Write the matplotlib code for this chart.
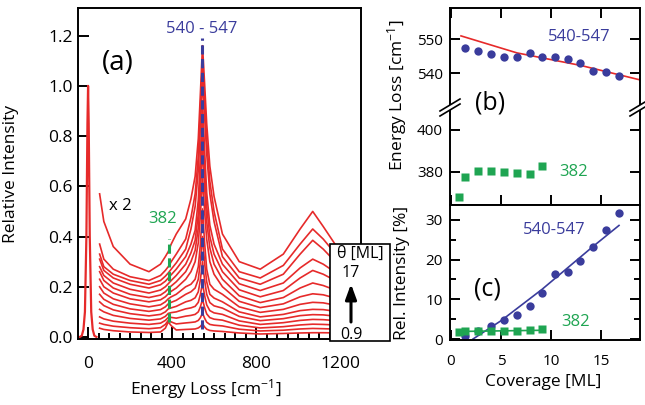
import matplotlib
matplotlib.use('Agg')
import matplotlib.pyplot as plt
from matplotlib.ticker import MultipleLocator, FormatStrFormatter
from matplotlib.patches import Rectangle, FancyArrowPatch, Polygon
from matplotlib.lines import Line2D

plt.rcParams['font.family'] = ['Open Sans', 'DejaVu Sans']
plt.rcParams['mathtext.default'] = 'regular'

RED = '#e62a2a'
BLUE = '#3a3c9c'
GREEN = '#1fa552'

# ---- (a) spectra, energy loss in cm-1 ----
energy = [55, 75, 120, 200, 290, 345, 368, 382, 396, 420, 465,
          490, 510, 525, 535, 545, 555, 565, 580, 600,
          640, 720, 820, 930, 1010, 1070, 1120, 1200]
spec_0p9 = [0.035, 0.03, 0.025, 0.02, 0.018, 0.02, 0.035, 0.06, 0.045, 0.028, 0.03,
            0.031, 0.032, 0.036, 0.042, 0.052, 0.04, 0.031, 0.026, 0.024,
            0.022, 0.016, 0.012, 0.014, 0.016, 0.017, 0.017, 0.016]
spec_1p4 = [0.055, 0.05, 0.043, 0.037, 0.033, 0.037, 0.05, 0.066, 0.06, 0.052, 0.056,
            0.058, 0.06, 0.066, 0.077, 0.095, 0.075, 0.059, 0.05, 0.047,
            0.044, 0.031, 0.024, 0.027, 0.032, 0.034, 0.033, 0.031]
spec_2p7 = [0.08, 0.072, 0.063, 0.055, 0.05, 0.055, 0.066, 0.078, 0.078, 0.075, 0.083,
            0.086, 0.09, 0.10, 0.12, 0.15, 0.117, 0.092, 0.077, 0.071,
            0.067, 0.047, 0.036, 0.041, 0.048, 0.051, 0.05, 0.047]
spec_4p0 = [0.11, 0.10, 0.086, 0.074, 0.067, 0.072, 0.082, 0.094, 0.097, 0.10, 0.112,
            0.116, 0.122, 0.138, 0.169, 0.215, 0.165, 0.128, 0.105, 0.096,
            0.09, 0.064, 0.05, 0.057, 0.066, 0.07, 0.069, 0.064]
spec_5p3 = [0.14, 0.125, 0.108, 0.093, 0.084, 0.09, 0.10, 0.112, 0.116, 0.122, 0.14,
            0.146, 0.156, 0.18, 0.228, 0.30, 0.226, 0.17, 0.137, 0.124,
            0.115, 0.082, 0.065, 0.073, 0.085, 0.089, 0.088, 0.081]
spec_6p6 = [0.17, 0.15, 0.13, 0.112, 0.102, 0.109, 0.12, 0.132, 0.138, 0.146, 0.17,
            0.18, 0.195, 0.23, 0.30, 0.40, 0.295, 0.22, 0.17, 0.155,
            0.14, 0.10, 0.08, 0.09, 0.105, 0.11, 0.109, 0.10]
spec_7p9 = [0.20, 0.175, 0.152, 0.132, 0.12, 0.128, 0.14, 0.152, 0.16, 0.17, 0.20,
            0.21, 0.23, 0.28, 0.37, 0.51, 0.375, 0.27, 0.21, 0.19,
            0.17, 0.12, 0.098, 0.11, 0.13, 0.138, 0.136, 0.123]
spec_9p1 = [0.23, 0.20, 0.175, 0.152, 0.14, 0.148, 0.16, 0.172, 0.182, 0.195, 0.23,
            0.26, 0.30, 0.375, 0.485, 0.63, 0.50, 0.39, 0.30, 0.25,
            0.20, 0.142, 0.117, 0.132, 0.16, 0.172, 0.168, 0.15]
spec_10p4 = [0.26, 0.225, 0.195, 0.17, 0.157, 0.167, 0.18, 0.192, 0.203, 0.22, 0.26,
             0.30, 0.345, 0.435, 0.575, 0.75, 0.595, 0.46, 0.355, 0.29,
             0.23, 0.164, 0.137, 0.157, 0.195, 0.215, 0.205, 0.18]
spec_11p7 = [0.28, 0.245, 0.215, 0.19, 0.175, 0.187, 0.20, 0.212, 0.225, 0.245, 0.29,
             0.335, 0.385, 0.49, 0.65, 0.85, 0.67, 0.52, 0.40, 0.33,
             0.26, 0.188, 0.16, 0.185, 0.235, 0.265, 0.25, 0.215]
spec_12p9 = [0.31, 0.265, 0.235, 0.21, 0.195, 0.208, 0.222, 0.235, 0.248, 0.27, 0.32,
             0.37, 0.425, 0.545, 0.72, 0.94, 0.745, 0.575, 0.445, 0.37,
             0.29, 0.212, 0.185, 0.215, 0.275, 0.31, 0.29, 0.245]
spec_14p2 = [0.33, 0.28, 0.25, 0.225, 0.21, 0.225, 0.242, 0.255, 0.27, 0.295, 0.35,
             0.43, 0.52, 0.665, 0.84, 1.02, 0.88, 0.73, 0.57, 0.46,
             0.32, 0.235, 0.21, 0.25, 0.33, 0.385, 0.35, 0.28]
spec_15p5 = [0.37, 0.31, 0.27, 0.24, 0.225, 0.245, 0.265, 0.28, 0.30, 0.33, 0.39,
             0.475, 0.57, 0.72, 0.91, 1.10, 0.95, 0.785, 0.62, 0.50,
             0.35, 0.26, 0.235, 0.285, 0.37, 0.43, 0.39, 0.31]
spec_17 = [0.57, 0.46, 0.36, 0.29, 0.26, 0.29, 0.32, 0.34, 0.37, 0.41, 0.47,
           0.55, 0.64, 0.79, 0.97, 1.16, 1.01, 0.85, 0.68, 0.56,
           0.41, 0.30, 0.27, 0.33, 0.43, 0.50, 0.44, 0.34]
spectra = [spec_0p9, spec_1p4, spec_2p7, spec_4p0, spec_5p3, spec_6p6, spec_7p9,
           spec_9p1, spec_10p4, spec_11p7, spec_12p9, spec_14p2, spec_15p5, spec_17]

# elastic peak (not scaled)
elastic_e = [-40, -30, -22, -15, -8, -3, 0, 3, 8, 15, 22, 30, 40]
elastic_i = [0.0, 0.005, 0.03, 0.1, 0.4, 0.85, 1.0, 0.85, 0.4, 0.1, 0.03, 0.005, 0.0]

peak_382 = 385
peak_545 = 545

# ---- (b), (c) vs coverage [ML] ----
coverage = [0.84, 1.4, 2.7, 4.0, 5.3, 6.6, 7.9, 9.1, 10.4, 11.7, 12.9, 14.2, 15.5, 16.8]
e540 = [547.4, 546.6, 545.6, 544.7, 544.7, 545.9, 544.7, 544.9, 544.3, 543.0, 540.8, 540.3, 539.2]
e382 = [368.0, 377.6, 380.5, 380.5, 379.7, 379.2, 378.7, 382.9]
fit540_cov = [1.0, 6.6, 10.4, 13.0, 19.0]
fit540_e = [551.0, 546.0, 543.8, 542.3, 538.0]

rel540 = [0.7, 1.9, 3.2, 4.8, 6.1, 8.2, 11.7, 16.3, 17.0, 19.6, 23.2, 27.5, 31.8]
rel382 = [1.7, 1.9, 2.1, 1.9, 2.1, 2.1, 2.3, 2.5]
relfit540_cov = [2.2, 5.0, 9.1, 14.2, 16.8]
relfit540 = [0.0, 4.6, 12.5, 23.3, 28.6]
relfit382_cov = [0.84, 9.1]
relfit382 = [1.9, 2.2]

W, H = 645, 405
fig = plt.figure(figsize=(W / 100, H / 100), dpi=100)


def box(left, top, right, bottom):
    return [left / W, 1 - bottom / H, (right - left) / W, (bottom - top) / H]


def fx(x):
    return x / W


def fy(y):
    return 1 - y / H


ax_a = fig.add_axes(box(78, 8, 361, 339))
ax_b1 = fig.add_axes(box(450, 8, 640, 107))
ax_b2 = fig.add_axes(box(450, 107, 640, 205))
ax_c = fig.add_axes(box(450, 205, 640, 340))

for ax in (ax_a, ax_b1, ax_b2, ax_c):
    for sp in ax.spines.values():
        sp.set_linewidth(1.4)

# ---- panel (a) ----
for s in spectra:
    ax_a.plot(energy, s, color=RED, lw=1.2)
ax_a.plot(elastic_e, elastic_i, color=RED, lw=1.6)
ax_a.vlines(peak_545, 0.03, 1.19, colors=BLUE, linestyles=(0, (3, 1.5)), lw=2.2, zorder=5)
ax_a.vlines(peak_382, 0.06, 0.39, colors=GREEN, linestyles=(0, (3, 1.5)), lw=2.2, zorder=5)
ax_a.set_xlim(-48, 1300)
ax_a.set_ylim(-0.008, 1.31)
ax_a.set_xticks([0, 400, 800, 1200])
ax_a.xaxis.set_minor_locator(MultipleLocator(50))
ax_a.set_yticks([0, 0.2, 0.4, 0.6, 0.8, 1.0, 1.2])
ax_a.yaxis.set_major_formatter(FormatStrFormatter('%.1f'))
ax_a.tick_params(axis='x', which='major', direction='in', length=9, width=1.4, labelsize=12.5, pad=12)
ax_a.tick_params(axis='x', which='minor', direction='in', length=4, width=1.4)
ax_a.tick_params(axis='y', which='major', direction='in', length=8, width=1.4, labelsize=12.5, pad=4)
ax_a.set_xlabel('Energy Loss [cm$^{-1}$]', fontsize=12.5)
ax_a.xaxis.set_label_coords(0.45, -0.115)
ax_a.set_ylabel('Relative Intensity', fontsize=12.5)
ax_a.yaxis.set_label_coords(-0.21, 0.5)
ax_a.text(143, 1.09, '(a)', fontsize=20, ha='center', va='center')
ax_a.text(152, 0.52, 'x 2', fontsize=12, ha='center', va='center')
ax_a.text(543, 1.225, '540 - 547', color=BLUE, fontsize=12, ha='center', va='center')
ax_a.text(357, 0.47, '382', color=GREEN, fontsize=12, ha='center', va='center')

# coverage legend box
fig.add_artist(Rectangle((fx(330), fy(341)), fx(390) - fx(330), fy(244) - fy(341),
                         transform=fig.transFigure, facecolor='white', edgecolor='black',
                         lw=1.2, zorder=10))
fig.text(fx(360), fy(254), 'θ [ML]', fontsize=11.5, ha='center', va='center', zorder=11)
fig.text(fx(351), fy(273), '17', fontsize=11.5, ha='center', va='center', zorder=11)
fig.text(fx(351), fy(335), '0.9', fontsize=11.5, ha='center', va='center', zorder=11)
fig.add_artist(FancyArrowPatch((fx(351), fy(322)), (fx(351), fy(284)), transform=fig.transFigure,
                               arrowstyle='-|>,head_length=9,head_width=3.3', lw=2.2,
                               shrinkA=0, shrinkB=0, color='black', zorder=11))

# ---- panel (b) ----
ax_b1.plot(fit540_cov, fit540_e, color=RED, lw=1.2)
ax_b1.plot(coverage[1:], e540, 'o', color=BLUE, ms=6, mec='none')
ax_b2.plot(coverage[:8], e382, 's', color=GREEN, ms=5.5, mec='none')
ax_b1.set_ylim(530.1, 559.2)
ax_b2.set_ylim(364.0, 411.0)
ax_b1.set_yticks([540, 550])
ax_b2.set_yticks([380, 400])
for ax in (ax_b1, ax_b2, ax_c):
    ax.set_xlim(-0.1, 18.9)
    ax.set_xticks([0, 5, 10, 15])
ax_b1.spines['bottom'].set_visible(False)
ax_b2.spines['top'].set_visible(False)
ax_b1.tick_params(direction='in', length=7, width=1.4, labelsize=11, pad=5,
                  top=True, bottom=False, right=True, labelbottom=False)
ax_b2.tick_params(direction='in', length=7, width=1.4, labelsize=11, pad=5,
                  top=False, bottom=True, right=True, labelbottom=False)
ax_b1.text(12.8, 550.7, '540-547', color=BLUE, fontsize=12, ha='center', va='center')
ax_b2.text(12.3, 380.0, '382', color=GREEN, fontsize=12, ha='center', va='center')

# axis break marks
for x0 in (450, 640):
    fig.add_artist(Polygon([(fx(x0 - 10), fy(111)), (fx(x0 + 10), fy(99)),
                            (fx(x0 + 10), fy(104)), (fx(x0 - 10), fy(116))],
                           closed=True, transform=fig.transFigure, facecolor='white',
                           edgecolor='none', zorder=8))
    for dy in (0, 5):
        fig.add_artist(Line2D([fx(x0 - 10), fx(x0 + 10)], [fy(111 + dy), fy(99 + dy)],
                              transform=fig.transFigure, color='black', lw=1.2, zorder=9))
fig.text(fx(490), fy(103), '(b)', fontsize=18, ha='center', va='center')

fig.text(fx(397), fy(95), 'Energy Loss [cm$^{-1}$]', fontsize=12.5, rotation=90,
         ha='center', va='center')

# ---- panel (c) ----
ax_c.plot(relfit540_cov, relfit540, color=BLUE, lw=1.2)
ax_c.plot(coverage[1:], rel540, 'o', color=BLUE, ms=6, mec='none')
ax_c.plot(relfit382_cov, relfit382, color=GREEN, lw=1.2)
ax_c.plot(coverage[:8], rel382, 's', color=GREEN, ms=5.5, mec='none')
ax_c.set_ylim(-0.25, 33.75)
ax_c.set_yticks([0, 10, 20, 30])
ax_c.yaxis.set_minor_locator(MultipleLocator(5))
ax_c.tick_params(which='major', direction='in', length=7, width=1.4, labelsize=11,
                 top=False, right=True)
ax_c.tick_params(axis='y', which='major', pad=5)
ax_c.tick_params(axis='x', which='major', pad=10)
ax_c.tick_params(which='minor', direction='in', length=4, width=1.4, top=False, right=True)
ax_c.set_xlabel('Coverage [ML]', fontsize=12.5)
ax_c.xaxis.set_label_coords(0.49, -0.25)
ax_c.text(10.3, 27.5, '540-547', color=BLUE, fontsize=12, ha='center', va='center')
ax_c.text(12.5, 4.25, '382', color=GREEN, fontsize=12, ha='center', va='center')
ax_c.text(3.6, 12.5, '(c)', fontsize=18, ha='center', va='center')
fig.text(fx(402), fy(273), 'Rel. Intensity [%]', fontsize=12.5, rotation=90,
         ha='center', va='center')

fig.savefig('out.png', dpi=100)
